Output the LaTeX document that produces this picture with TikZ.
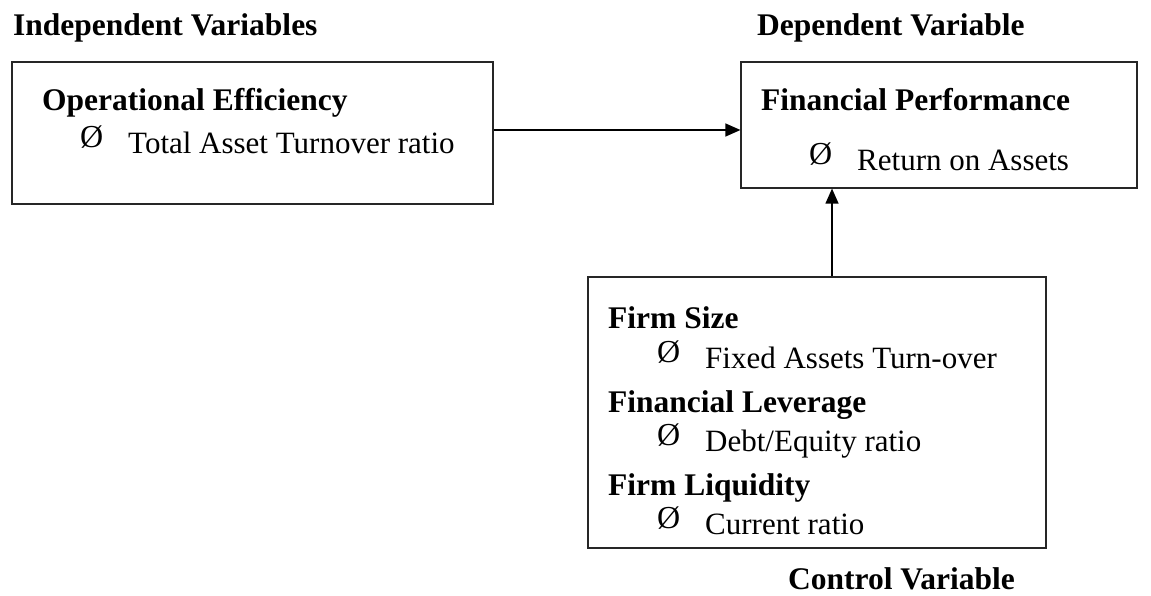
\documentclass[tikz,border=0pt]{standalone}
\usepackage{fontspec}
\setmainfont{Liberation Serif}
\usetikzlibrary{arrows.meta}
\tikzset{
  box/.style={draw=black!85, line width=1.2pt, rectangle, inner sep=0pt},
  txt/.style={anchor=base west, inner sep=0pt, font=\fontsize{31}{37}\selectfont},
  btxt/.style={txt, font=\fontsize{31.5}{37}\selectfont\bfseries},
  bul/.style={anchor=base west, inner sep=0pt, font=\fontsize{32}{37}\selectfont},
  conn/.style={draw=black, line width=1.2pt, -{Triangle[length=15pt,width=13pt]}}
}
\newcommand{\blt}{\raisebox{5pt}{Ø}}
\begin{document}
\begin{tikzpicture}[x=1pt,y=-1pt]
\useasboundingbox (0,0) rectangle (1151,596);
% headers
\node[btxt] (hind) at (13,36) {Independent Variables};
\node[btxt] (hdep) at (757,36) {Dependent Variable};
\node[btxt] (hctl) at (788,589) {Control Variable};
% boxes
\node[box, minimum width=481pt, minimum height=142pt] (b1) at (252.5,133) {};
\node[box, minimum width=396pt, minimum height=126pt] (b2) at (939,125) {};
\node[box, minimum width=458pt, minimum height=271pt] (b3) at (817,412.5) {};
% box 1 text
\node[btxt] (t1a) at (42,111) {Operational Efficiency};
\node[bul] (t1b) at (80,153) {\blt};
\node[txt] (t1c) at (128,154) {Total Asset Turnover ratio};
% box 2 text
\node[btxt] (t2a) at (761,111) {Financial Performance};
\node[bul] (t2b) at (809,170) {\blt};
\node[txt] (t2c) at (857,171) {Return on Assets};
% box 3 text
\node[btxt] (t3a) at (608,328) {Firm Size};
\node[bul] (t3b) at (657,367) {\blt};
\node[txt] (t3c) at (705,368) {Fixed Assets Turn-over};
\node[btxt] (t3d) at (608,412) {Financial Leverage};
\node[bul] (t3e) at (657,450) {\blt};
\node[txt] (t3f) at (705,451) {Debt/Equity ratio};
\node[btxt] (t3g) at (608,495) {Firm Liquidity};
\node[bul] (t3h) at (657,533) {\blt};
\node[txt] (t3i) at (705,534) {Current ratio};
% connectors
\coordinate (a1) at (b1.east |- 0,130);
\coordinate (a2) at (b2.west |- 0,130);
\draw[conn] (a1) -- (a2);
\draw[conn] (b3.north -| 832,0) -- (b2.south -| 832,0);
\end{tikzpicture}
\end{document}
